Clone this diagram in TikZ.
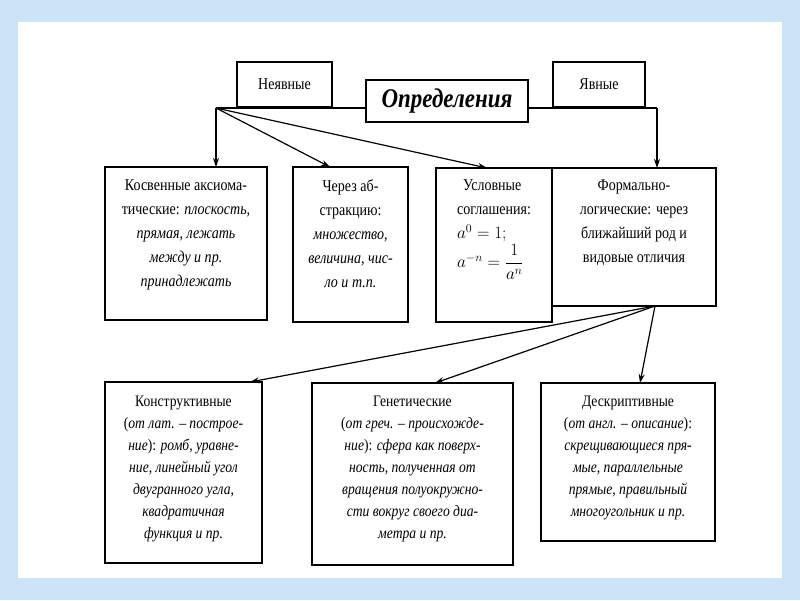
\documentclass[tikz,border=0pt]{standalone}
\usepackage{fontspec}
\setmainfont{Liberation Serif}[FakeStretch=0.85]
\usetikzlibrary{arrows.meta}
\definecolor{bgblue}{RGB}{205,228,246}
\begin{document}
\begin{tikzpicture}[x=1pt,y=-1pt,
  box/.style={draw,line width=1.2pt,fill=white,inner sep=0pt},
  txt/.style={align=center,font=\fontsize{16.5}{24}\selectfont},
  txtb/.style={align=center,font=\fontsize{16}{22}\selectfont},
  arr/.style={line width=1.2pt,-{Stealth[length=9pt,width=6pt]}}]
\useasboundingbox (0,0) rectangle (800,600);
\fill[bgblue] (0,0) rectangle (800,600);
\fill[white] (18,22) rectangle (782,578);
% top
\draw[line width=1.2pt] (216,108) -- (366,108);
\draw[line width=1.2pt] (528,108) -- (657,108) coordinate (ry);
\node[box,minimum width=95pt,minimum height=45pt] (nev) at (284.5,84.5) {};
\node[txt] at (nev) {Неявные};
\node[box,minimum width=92pt,minimum height=45pt] (yav) at (599,84.5) {};
\node[txt] at (yav) {Явные};
\node[box,minimum width=162pt,minimum height=42pt,font=\fontsize{27}{30}\selectfont\bfseries\itshape] (def) at (447,101) {Определения};
\coordinate (lp) at (216,108);
% row 1
\node[box,minimum width=162pt,minimum height=153pt] (b1) at (186,243.5) {};
\node[txt,anchor=north] at (186,176) {Косвенные аксиома-\\тические: \textit{плоскость,}\\\textit{прямая, лежать}\\\textit{между и пр.}\\\textit{принадлежать}};
\node[box,minimum width=115pt,minimum height=155pt] (b2) at (350.5,244.5) {};
\node[txt,anchor=north] at (350.5,176) {Через аб-\\стракцию:\\\textit{множество,}\\\textit{величина, чис-}\\\textit{ло и т.п.}};
\node[box,minimum width=116pt,minimum height=154pt] (b3) at (494,245) {};
\node[txt,anchor=north,align=left] at (494,176) {\hspace*{6pt}Условные\\соглашения:\\$a^{0}=1;$\\[2pt]$a^{-n}=\displaystyle\frac{1}{a^{n}}$};
\node[box,minimum width=164pt,minimum height=138pt] (b4) at (634,237) {};
\node[txt,anchor=north] at (634,176) {Формально-\\логические: через\\ближайший род и\\видовые отличия};
% row 2
\node[box,minimum width=157pt,minimum height=181pt] (c1) at (183.5,472.5) {};
\node[txtb,anchor=north] at (183.5,392) {Конструктивные\\(\textit{от лат. – построе-}\\\textit{ние}): \textit{ромб, уравне-}\\\textit{ние, линейный угол}\\\textit{двугранного угла,}\\\textit{квадратичная}\\\textit{функция и пр.}};
\node[box,minimum width=201pt,minimum height=182pt] (c2) at (412.5,474) {};
\node[txtb,anchor=north] at (412.5,392) {Генетические\\(\textit{от греч. – происхожде-}\\\textit{ние}): \textit{сфера как поверх-}\\\textit{ность, полученная от}\\\textit{вращения полуокружно-}\\\textit{сти вокруг своего диа-}\\\textit{метра и пр.}};
\node[box,minimum width=174pt,minimum height=158pt] (c3) at (628,462) {};
\node[txtb,anchor=north] at (628,392) {Дескриптивные\\(\textit{от англ. – описание}):\\\textit{скрещивающиеся пря-}\\\textit{мые, параллельные}\\\textit{прямые, правильный}\\\textit{многоугольник и пр.}};
% arrows
\draw[arr] (lp) -- (216,167);
\draw[arr] (lp) -- (330,167);
\draw[arr] (lp) -- (487,168);
\draw[arr] (ry) -- (657,168);
\coordinate (fp) at (655,306);
\draw[arr] (fp) -- (250,382);
\draw[arr] (fp) -- (435,383);
\draw[arr] (fp) -- (640,383);
\end{tikzpicture}
\end{document}
